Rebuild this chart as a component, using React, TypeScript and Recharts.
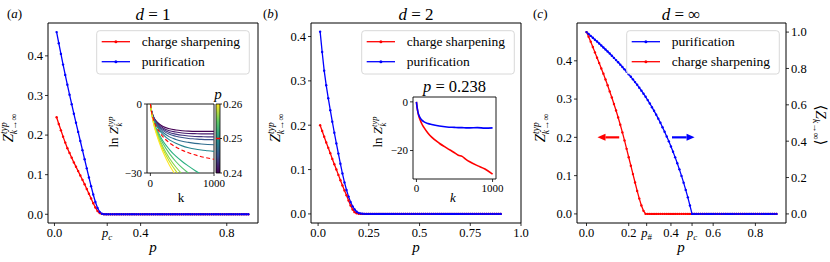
import React from "react";
import { LineChart, Line, XAxis, YAxis, ReferenceArea, ReferenceLine } from "recharts";

const SERIF = '"Liberation Serif", "DejaVu Serif", serif';
const RED = "#ff0000";
const BLUE = "#0000ff";
const INK = "#000";

// p grid of panels (a) and (b)
const P_AB = [
  0.01, 0.02, 0.03, 0.04, 0.05, 0.06, 0.07, 0.08, 0.09, 0.1,
  0.11, 0.12, 0.13, 0.14, 0.15, 0.16, 0.17, 0.18, 0.19, 0.2,
  0.21, 0.22, 0.23, 0.24, 0.25, 0.26, 0.27, 0.28, 0.29, 0.3,
  0.31, 0.32, 0.33, 0.34, 0.35, 0.36, 0.37, 0.38, 0.39, 0.4,
  0.41, 0.42, 0.43, 0.44, 0.45, 0.46, 0.47, 0.48, 0.49, 0.5,
  0.51, 0.52, 0.53, 0.54, 0.55, 0.56, 0.57, 0.58, 0.59, 0.6,
  0.61, 0.62, 0.63, 0.64, 0.65, 0.66, 0.67, 0.68, 0.69, 0.7,
  0.71, 0.72, 0.73, 0.74, 0.75, 0.76, 0.77, 0.78, 0.79, 0.8,
  0.81, 0.82, 0.83, 0.84, 0.85, 0.86, 0.87, 0.88, 0.89, 0.9,
];
// panel (c) also has p = 0
const P_C = [0, ...P_AB];

// (a) d = 1
const A_SHARP = [
  0.245, 0.228, 0.212, 0.196, 0.181, 0.167, 0.155, 0.143, 0.131, 0.12,
  0.109, 0.098, 0.087, 0.076, 0.064, 0.052, 0.04, 0.028, 0.017, 0.008,
  0.003, 0.001, 0, 0, 0, 0, 0, 0, 0, 0,
  0, 0, 0, 0, 0, 0, 0, 0, 0, 0,
  0, 0, 0, 0, 0, 0, 0, 0, 0, 0,
  0, 0, 0, 0, 0, 0, 0, 0, 0, 0,
  0, 0, 0, 0, 0, 0, 0, 0, 0, 0,
  0, 0, 0, 0, 0, 0, 0, 0, 0, 0,
  0, 0, 0, 0, 0, 0, 0, 0, 0, 0,
];
const A_PURIF = [
  0.46, 0.432, 0.405, 0.378, 0.352, 0.327, 0.302, 0.278, 0.254, 0.231,
  0.208, 0.185, 0.162, 0.139, 0.116, 0.093, 0.071, 0.05, 0.031, 0.016,
  0.006, 0.0015, 0.0003, 0, 0, 0, 0, 0, 0, 0,
  0, 0, 0, 0, 0, 0, 0, 0, 0, 0,
  0, 0, 0, 0, 0, 0, 0, 0, 0, 0,
  0, 0, 0, 0, 0, 0, 0, 0, 0, 0,
  0, 0, 0, 0, 0, 0, 0, 0, 0, 0,
  0, 0, 0, 0, 0, 0, 0, 0, 0, 0,
  0, 0, 0, 0, 0, 0, 0, 0, 0, 0,
];

// (b) d = 2
const B_SHARP = [
  0.2, 0.187, 0.174, 0.161, 0.149, 0.137, 0.124, 0.112, 0.1, 0.088,
  0.076, 0.064, 0.053, 0.042, 0.03, 0.019, 0.01, 0.004, 0.0015, 0.0005,
  0, 0, 0, 0, 0, 0, 0, 0, 0, 0,
  0, 0, 0, 0, 0, 0, 0, 0, 0, 0,
  0, 0, 0, 0, 0, 0, 0, 0, 0, 0,
  0, 0, 0, 0, 0, 0, 0, 0, 0, 0,
  0, 0, 0, 0, 0, 0, 0, 0, 0, 0,
  0, 0, 0, 0, 0, 0, 0, 0, 0, 0,
  0, 0, 0, 0, 0, 0, 0, 0, 0, 0,
];
const B_PURIF = [
  0.411, 0.365, 0.323, 0.29, 0.261, 0.234, 0.208, 0.183, 0.159, 0.136,
  0.113, 0.091, 0.071, 0.054, 0.039, 0.027, 0.017, 0.01, 0.005, 0.002,
  0.0008, 0.0002, 0, 0, 0, 0, 0, 0, 0, 0,
  0, 0, 0, 0, 0, 0, 0, 0, 0, 0,
  0, 0, 0, 0, 0, 0, 0, 0, 0, 0,
  0, 0, 0, 0, 0, 0, 0, 0, 0, 0,
  0, 0, 0, 0, 0, 0, 0, 0, 0, 0,
  0, 0, 0, 0, 0, 0, 0, 0, 0, 0,
  0, 0, 0, 0, 0, 0, 0, 0, 0, 0,
];

// (c) d = inf, sharpening on left axis, purification on right axis
const C_SHARP = [
  0.475, 0.463, 0.45, 0.436, 0.422, 0.408, 0.394, 0.38, 0.366, 0.351,
  0.336, 0.32, 0.304, 0.287, 0.27, 0.252, 0.233, 0.213, 0.192, 0.17,
  0.148, 0.126, 0.104, 0.082, 0.06, 0.04, 0.022, 0.008, 0, 0,
  0, 0, 0, 0, 0, 0, 0, 0, 0, 0,
  0, 0, 0, 0, 0, 0, 0, 0, 0, 0,
  0, 0, 0, 0, 0, 0, 0, 0, 0, 0,
  0, 0, 0, 0, 0, 0, 0, 0, 0, 0,
  0, 0, 0, 0, 0, 0, 0, 0, 0, 0,
  0, 0, 0, 0, 0, 0, 0, 0, 0, 0,
  0,
];
const C_PURIF = [
  1, 0.99, 0.979, 0.969, 0.958, 0.948, 0.937, 0.926, 0.915, 0.904,
  0.893, 0.882, 0.87, 0.858, 0.846, 0.834, 0.821, 0.808, 0.795, 0.782,
  0.768, 0.754, 0.74, 0.725, 0.71, 0.694, 0.678, 0.661, 0.644, 0.626,
  0.607, 0.587, 0.567, 0.546, 0.524, 0.501, 0.477, 0.452, 0.426, 0.399,
  0.371, 0.342, 0.311, 0.279, 0.245, 0.209, 0.172, 0.132, 0.091, 0.046,
  0, 0, 0, 0, 0, 0, 0, 0, 0, 0,
  0, 0, 0, 0, 0, 0, 0, 0, 0, 0,
  0, 0, 0, 0, 0, 0, 0, 0, 0, 0,
  0, 0, 0, 0, 0, 0, 0, 0, 0, 0,
  0,
];

// inset of (a): ln Z_k vs k for p = 0.24 ... 0.26
const K_A = [0, 20, 50, 100, 150, 200, 300, 400, 500, 600, 700, 800, 900, 1000];
const LNZ_240 = [0, -3.0, -5.5, -7.6, -8.9, -9.8, -10.8, -11.3, -11.6, -11.8, -11.9, -11.9, -11.9, -11.9];
const LNZ_242 = [0, -3.1, -5.7, -8.0, -9.4, -10.4, -11.6, -12.2, -12.6, -12.8, -12.9, -13.0, -13.0, -13.0];
const LNZ_244 = [0, -3.2, -5.9, -8.3, -9.9, -11.0, -12.4, -13.1, -13.6, -13.9, -14.1, -14.2, -14.3, -14.3];
const LNZ_246 = [0, -3.3, -6.1, -8.7, -10.4, -11.6, -13.2, -14.0, -14.6, -15.0, -15.2, -15.4, -15.5, -15.5];
const LNZ_247 = [0, -3.4, -6.3, -9.1, -11.0, -12.4, -14.3, -15.4, -16.2, -16.7, -17.1, -17.4, -17.6, -17.7];
const LNZ_249 = [0, -3.5, -6.6, -9.6, -11.7, -13.3, -15.6, -17.1, -18.2, -19.0, -19.6, -20.0, -20.3, -20.6];
const LNZ_250 = [0, -3.6, -6.9, -10.2, -12.5, -14.3, -16.9, -18.7, -20.1, -21.2, -22.1, -22.9, -23.5, -24.0];
const LNZ_252 = [0, -3.7, -7.3, -11.0, -13.8, -16.2, -19.8, -22.7, -25.0, -27.0, -28.9, -30.6, -32.2, -33.8];
const LNZ_254 = [0, -3.8, -7.6, -11.6, -14.7, -17.3, -21.6, -25.0, -27.8, -30.1, -32.4, -34.5, -36.5, -38.4];
const LNZ_256 = [0, -3.9, -8.0, -12.3, -15.8, -18.8, -23.6, -27.4, -30.5, -33.3, -35.9, -38.3, -40.6, -42.8];
const LNZ_258 = [0, -4.0, -8.3, -12.9, -16.6, -19.8, -25.0, -29.1, -32.5, -35.5, -38.3, -40.9, -43.4, -45.8];
const LNZ_260 = [0, -4.1, -8.6, -13.5, -17.5, -21.0, -26.6, -31.0, -34.7, -38.0, -41.0, -43.8, -46.5, -49.0];

const INSET_A_CURVES = [
  { key: "p240", values: LNZ_240, color: "#440154" },
  { key: "p242", values: LNZ_242, color: "#481c6e" },
  { key: "p244", values: LNZ_244, color: "#453781" },
  { key: "p246", values: LNZ_246, color: "#3b528b" },
  { key: "p247", values: LNZ_247, color: "#2f6c8e" },
  { key: "p249", values: LNZ_249, color: "#25858e" },
  { key: "p252", values: LNZ_252, color: "#2ab07f" },
  { key: "p254", values: LNZ_254, color: "#52c569" },
  { key: "p256", values: LNZ_256, color: "#86d549" },
  { key: "p258", values: LNZ_258, color: "#c2df23" },
  { key: "p260", values: LNZ_260, color: "#fde725" },
];

// inset of (b): p = 0.238
const K_B = [0, 10, 20, 30, 50, 75, 100, 150, 200, 300, 400, 500, 550, 600, 650, 700, 800, 900, 1000];
const LNZ_SHARP_B = [0, -2.6, -4.4, -5.7, -7.5, -9.3, -10.6, -12.8, -14.5, -17.0, -19.0, -20.9, -21.9, -22.4, -23.6, -24.6, -26.2, -27.6, -29.7];
const LNZ_PURIF_B = [0, -2.5, -4.2, -5.3, -6.6, -7.6, -8.2, -8.9, -9.3, -9.9, -10.3, -10.5, -10.6, -10.6, -10.7, -10.7, -10.6, -10.8, -10.7];

// colorbar
const CB_TICKS = [0.24, 0.25, 0.26];
const P_CRIT = 0.25;

const rowsA = P_AB.map((p, i) => ({ p, sharp: A_SHARP[i], purif: A_PURIF[i] }));
const rowsB = P_AB.map((p, i) => ({ p, sharp: B_SHARP[i], purif: B_PURIF[i] }));
const rowsC = P_C.map((p, i) => ({ p, sharp: C_SHARP[i], purif: C_PURIF[i] }));
const rowsInsetA = K_A.map((k, i) => {
  const r: Record<string, number> = { k, p250: LNZ_250[i] };
  INSET_A_CURVES.forEach((c) => (r[c.key] = c.values[i]));
  return r;
});
const rowsInsetB = K_B.map((k, i) => ({ k, sharp: LNZ_SHARP_B[i], purif: LNZ_PURIF_B[i] }));

const TICK_LINE = { stroke: INK, strokeWidth: 0.8 };

const fix1 = (v: number) => v.toFixed(1);
const fix2 = (v: number) => v.toFixed(2);
const intLabel = (v: number) => (v < 0 ? "\u2212" + Math.abs(v) : String(v));

function pSub(sub: string, italic: boolean) {
  return (
    <>
      <tspan fontStyle="italic">p</tspan>
      <tspan fontStyle={italic ? "italic" : "normal"} fontSize={9} dy={3}>
        {sub}
      </tspan>
    </>
  );
}

function makeTick(
  anchor: "start" | "middle" | "end",
  size: number,
  fmt: (v: number) => string,
  labels?: Record<string, React.ReactNode>,
) {
  const dy = anchor === "middle" ? size * 0.71 : size * 0.35;
  return (props: any) => {
    const v = props.payload.value as number;
    const custom = labels ? labels[String(v)] : undefined;
    return (
      <text x={props.x} y={props.y} dy={dy} textAnchor={anchor} fontFamily={SERIF} fontSize={size} fill={INK}>
        {custom !== undefined ? custom : fmt(v)}
      </text>
    );
  };
}

const dotStyle = (c: string) => ({ r: 1.2, fill: c, stroke: c, strokeWidth: 0 });

type PanelProps = {
  left: number;
  rows: { p: number; sharp: number; purif: number }[];
  xDomain: [number, number];
  xTicks: number[];
  xLabels?: Record<string, React.ReactNode>;
  yDomain: [number, number];
};

function Panel({ left, rows, xDomain, xTicks, xLabels, yDomain }: PanelProps) {
  return (
    <div style={{ position: "absolute", left, top: 0 }}>
      <LineChart width={272} height={262} data={rows} margin={{ top: 23, right: 14, bottom: 0, left: 0 }}>
        <XAxis
          dataKey="p"
          type="number"
          domain={xDomain}
          ticks={xTicks}
          interval={0}
          allowDataOverflow
          height={39}
          tickSize={3}
          tickMargin={2}
          axisLine={false}
          tickLine={TICK_LINE}
          tick={makeTick("middle", 12.5, fix1, xLabels)}
        />
        <YAxis
          type="number"
          domain={yDomain}
          ticks={[0, 0.1, 0.2, 0.3, 0.4]}
          interval={0}
          allowDataOverflow
          width={48}
          tickSize={3}
          tickMargin={2}
          axisLine={false}
          tickLine={TICK_LINE}
          tick={makeTick("end", 12.5, fix1)}
        />
        <ReferenceArea
          x1={xDomain[0]}
          x2={xDomain[1]}
          y1={yDomain[0]}
          y2={yDomain[1]}
          fill="none"
          stroke={INK}
          strokeWidth={1}
          ifOverflow="visible"
        />
        <Line type="linear" dataKey="sharp" stroke={RED} strokeWidth={1.3} dot={dotStyle(RED)} activeDot={false} isAnimationActive={false} />
        <Line type="linear" dataKey="purif" stroke={BLUE} strokeWidth={1.3} dot={dotStyle(BLUE)} activeDot={false} isAnimationActive={false} />
      </LineChart>
    </div>
  );
}

const arrowShape = (color: string) => (props: any) => {
  const { x1, y1, x2, y2 } = props;
  const dir = Math.sign(x2 - x1);
  const bx = x2 - dir * 8;
  return (
    <g>
      <line x1={x1} y1={y1} x2={bx} y2={y2} stroke={color} strokeWidth={2.2} />
      <polygon points={`${x2},${y2} ${bx},${y2 - 3.5} ${bx},${y2 + 3.5}`} fill={color} />
    </g>
  );
};

function PanelC() {
  const xDomain: [number, number] = [-0.045, 0.945];
  const yL: [number, number] = [-0.02375, 0.49875];
  const yR: [number, number] = [-0.05, 1.05];
  return (
    <div style={{ position: "absolute", left: 528, top: 0 }}>
      <LineChart width={302} height={262} data={rowsC} margin={{ top: 23, right: 0, bottom: 0, left: 0 }}>
        <XAxis
          dataKey="p"
          type="number"
          domain={xDomain}
          ticks={[0, 0.2, 0.285, 0.4, 0.5, 0.6, 0.8]}
          interval={0}
          allowDataOverflow
          height={39}
          tickSize={3}
          tickMargin={2}
          axisLine={false}
          tickLine={TICK_LINE}
          tick={makeTick("middle", 12.5, fix1, { "0.285": pSub("#", false), "0.5": pSub("c", true) })}
        />
        <YAxis
          yAxisId="L"
          type="number"
          domain={yL}
          ticks={[0, 0.1, 0.2, 0.3, 0.4]}
          interval={0}
          allowDataOverflow
          width={49}
          tickSize={3}
          tickMargin={2}
          axisLine={false}
          tickLine={TICK_LINE}
          tick={makeTick("end", 12.5, fix1)}
        />
        <YAxis
          yAxisId="R"
          orientation="right"
          type="number"
          domain={yR}
          ticks={[0, 0.2, 0.4, 0.6, 0.8, 1.0]}
          interval={0}
          allowDataOverflow
          width={44}
          tickSize={3}
          tickMargin={2}
          axisLine={false}
          tickLine={TICK_LINE}
          tick={makeTick("start", 12.5, fix1)}
        />
        <ReferenceArea
          yAxisId="L"
          x1={xDomain[0]}
          x2={xDomain[1]}
          y1={yL[0]}
          y2={yL[1]}
          fill="none"
          stroke={INK}
          strokeWidth={1}
          ifOverflow="visible"
        />
        <ReferenceLine yAxisId="L" segment={[{ x: 0.155, y: 0.2 }, { x: 0.052, y: 0.2 }]} shape={arrowShape(RED)} />
        <ReferenceLine yAxisId="L" segment={[{ x: 0.405, y: 0.2 }, { x: 0.512, y: 0.2 }]} shape={arrowShape(BLUE)} />
        <Line yAxisId="L" type="linear" dataKey="sharp" stroke={RED} strokeWidth={1.3} dot={dotStyle(RED)} activeDot={false} isAnimationActive={false} />
        <Line yAxisId="R" type="linear" dataKey="purif" stroke={BLUE} strokeWidth={1.3} dot={dotStyle(BLUE)} activeDot={false} isAnimationActive={false} />
      </LineChart>
    </div>
  );
}

function InsetA() {
  const xD: [number, number] = [-53, 1000];
  const yD: [number, number] = [-30, 0];
  return (
    <div style={{ position: "absolute", left: 115, top: 92 }}>
      <LineChart width={120} height={108} data={rowsInsetA} margin={{ top: 12, right: 21, bottom: 0, left: 0 }}>
        <XAxis
          dataKey="k"
          type="number"
          domain={xD}
          ticks={[0, 1000]}
          interval={0}
          allowDataOverflow
          height={27}
          tickSize={3}
          tickMargin={3}
          axisLine={false}
          tickLine={TICK_LINE}
          tick={makeTick("middle", 11, intLabel)}
        />
        <YAxis
          type="number"
          domain={yD}
          ticks={[-30, 0]}
          interval={0}
          allowDataOverflow
          width={32}
          tickSize={3}
          tickMargin={2}
          axisLine={false}
          tickLine={TICK_LINE}
          tick={makeTick("end", 11, intLabel)}
        />
        {INSET_A_CURVES.map((c) => (
          <Line key={c.key} type="monotone" dataKey={c.key} stroke={c.color} strokeWidth={1.1} dot={false} activeDot={false} isAnimationActive={false} />
        ))}
        <Line type="monotone" dataKey="p250" stroke={RED} strokeWidth={1.1} strokeDasharray="4 2.5" dot={false} activeDot={false} isAnimationActive={false} />
        <ReferenceArea x1={xD[0]} x2={xD[1]} y1={yD[0]} y2={yD[1]} fill="none" stroke={INK} strokeWidth={0.9} ifOverflow="visible" />
      </LineChart>
    </div>
  );
}

function Colorbar() {
  return (
    <div style={{ position: "absolute", left: 205, top: 92 }}>
      <LineChart width={50} height={101} data={[{ x: 0 }, { x: 1 }]} margin={{ top: 12, right: 10, bottom: 20, left: 11 }}>
        <defs>
          <linearGradient id="viridis" x1="0" y1="0" x2="0" y2="1">
            <stop offset="0%" stopColor="#fde725" />
            <stop offset="25%" stopColor="#5ec962" />
            <stop offset="50%" stopColor="#21918c" />
            <stop offset="75%" stopColor="#3b528b" />
            <stop offset="100%" stopColor="#440154" />
          </linearGradient>
        </defs>
        <XAxis dataKey="x" type="number" domain={[0, 1]} hide height={0} />
        <YAxis
          orientation="right"
          type="number"
          domain={[0.24, 0.26]}
          ticks={CB_TICKS}
          interval={0}
          allowDataOverflow
          width={25}
          tickSize={2}
          tickMargin={1}
          axisLine={false}
          tickLine={TICK_LINE}
          tick={makeTick("start", 11, fix2)}
        />
        <ReferenceArea x1={0} x2={1} y1={0.24} y2={0.26} fill="url(#viridis)" fillOpacity={1} stroke={INK} strokeWidth={0.8} ifOverflow="visible" />
        <ReferenceLine y={P_CRIT} stroke={RED} strokeWidth={1.5} />
      </LineChart>
    </div>
  );
}

function InsetB() {
  const xD: [number, number] = [-45, 1045];
  const yD: [number, number] = [-31.7, 2];
  return (
    <div style={{ position: "absolute", left: 370, top: 90 }}>
      <LineChart width={140} height={112} data={rowsInsetB} margin={{ top: 7, right: 14, bottom: 0, left: 2 }}>
        <XAxis
          dataKey="k"
          type="number"
          domain={xD}
          ticks={[0, 1000]}
          interval={0}
          allowDataOverflow
          height={23}
          tickSize={3}
          tickMargin={2}
          axisLine={false}
          tickLine={TICK_LINE}
          tick={makeTick("middle", 11, intLabel)}
        />
        <YAxis
          type="number"
          domain={yD}
          ticks={[-20, 0]}
          interval={0}
          allowDataOverflow
          width={41}
          tickSize={3}
          tickMargin={2}
          axisLine={false}
          tickLine={TICK_LINE}
          tick={makeTick("end", 11, intLabel)}
        />
        <ReferenceArea x1={xD[0]} x2={xD[1]} y1={yD[0]} y2={yD[1]} fill="none" stroke={INK} strokeWidth={0.9} ifOverflow="visible" />
        <Line type="monotone" dataKey="sharp" stroke={RED} strokeWidth={1.6} dot={false} activeDot={false} isAnimationActive={false} />
        <Line type="monotone" dataKey="purif" stroke={BLUE} strokeWidth={1.6} dot={false} activeDot={false} isAnimationActive={false} />
      </LineChart>
    </div>
  );
}

type LegendItem = { label: string; color: string };

function LegendBox({ x, items }: { x: number; items: LegendItem[] }) {
  const y = 30.7;
  return (
    <g>
      <rect x={x} y={y} width={152.6} height={43.3} rx={3} fill="#fff" fillOpacity={0.8} stroke="#d4d4d4" strokeWidth={0.9} />
      {items.map((it, i) => {
        const cy = y + 11 + i * 20;
        return (
          <g key={it.label}>
            <line x1={x + 5} x2={x + 33.3} y1={cy} y2={cy} stroke={it.color} strokeWidth={1.3} />
            <circle cx={x + 19.2} cy={cy} r={1.5} fill={it.color} />
            <text x={x + 45} y={cy + 4.5} fontFamily={SERIF} fontSize={13.5} fill={INK}>
              {it.label}
            </text>
          </g>
        );
      })}
    </g>
  );
}

function ZLabel({ tx, cy }: { tx: number; cy: number }) {
  return (
    <text transform={`translate(${tx},${cy}) rotate(-90)`} textAnchor="middle" fontFamily={SERIF} fontSize={15} fill={INK}>
      <tspan fontStyle="italic">Z</tspan>
      <tspan fontStyle="italic" fontSize={9.5} dy={-6}>typ</tspan>
      <tspan fontStyle="italic" fontSize={9.5} dx={-12} dy={9.5}>k</tspan>
      <tspan fontSize={9.5}>{"\u2192\u221e"}</tspan>
    </text>
  );
}

function LnZLabel({ tx, cy }: { tx: number; cy: number }) {
  return (
    <text transform={`translate(${tx},${cy}) rotate(-90)`} textAnchor="middle" fontFamily={SERIF} fontSize={13} fill={INK}>
      <tspan>ln </tspan>
      <tspan fontStyle="italic">Z</tspan>
      <tspan fontStyle="italic" fontSize={8.5} dy={-5}>typ</tspan>
      <tspan fontStyle="italic" fontSize={8.5} dx={-10} dy={8.5}>k</tspan>
    </text>
  );
}

function Title({ x, text }: { x: number; text: string }) {
  return (
    <text x={x} y={20} textAnchor="middle" fontFamily={SERIF} fontSize={17} fill={INK}>
      <tspan fontStyle="italic">d</tspan>
      <tspan>{" = " + text}</tspan>
    </text>
  );
}

function PanelTag({ x, tag }: { x: number; tag: string }) {
  return (
    <text x={x} y={18} fontFamily={SERIF} fontSize={13} fill={INK}>
      (<tspan fontStyle="italic">{tag}</tspan>)
    </text>
  );
}

function Overlay() {
  const xlab = (x: number) => (
    <text x={x} y={252} textAnchor="middle" fontFamily={SERIF} fontSize={15} fontStyle="italic" fill={INK}>
      p
    </text>
  );
  return (
    <svg width={830} height={262} style={{ position: "absolute", left: 0, top: 0, pointerEvents: "none" }}>
      <PanelTag x={7} tag="a" />
      <PanelTag x={263} tag="b" />
      <PanelTag x={533} tag="c" />
      <Title x={153} text="1" />
      <Title x={416} text="2" />
      <Title x={681} text={"\u221e"} />
      {xlab(153)}
      {xlab(416)}
      {xlab(681)}
      <ZLabel tx={13} cy={128} />
      <ZLabel tx={280} cy={128} />
      <ZLabel tx={545} cy={128} />
      <text transform="translate(816,125) rotate(90)" textAnchor="middle" fontFamily={SERIF} fontSize={15} fill={INK}>
        <tspan>{"\u27e8"}</tspan>
        <tspan fontStyle="italic">Z</tspan>
        <tspan fontStyle="italic" fontSize={9.5} dy={3}>k</tspan>
        <tspan fontSize={9.5}>{"\u2192\u221e"}</tspan>
        <tspan dy={-3}>{"\u27e9"}</tspan>
      </text>
      <LegendBox x={96.7} items={[{ label: "charge sharpening", color: RED }, { label: "purification", color: BLUE }]} />
      <LegendBox x={361.7} items={[{ label: "charge sharpening", color: RED }, { label: "purification", color: BLUE }]} />
      <LegendBox x={626.7} items={[{ label: "purification", color: BLUE }, { label: "charge sharpening", color: RED }]} />
      {/* inset (a) labels */}
      <LnZLabel tx={118} cy={132} />
      <text x={181} y={202} textAnchor="middle" fontFamily={SERIF} fontSize={13} fill={INK}>
        k
      </text>
      <text x={218} y={99} textAnchor="middle" fontFamily={SERIF} fontSize={15} fontStyle="italic" fill={INK}>
        p
      </text>
      {/* inset (b) labels */}
      <text x={454.5} y={92} textAnchor="middle" fontFamily={SERIF} fontSize={16.5} fill={INK}>
        <tspan fontStyle="italic">p</tspan>
        <tspan>{" = 0.238"}</tspan>
      </text>
      <LnZLabel tx={382} cy={132} />
      <text x={453} y={202} textAnchor="middle" fontFamily={SERIF} fontSize={13} fontStyle="italic" fill={INK}>
        k
      </text>
    </svg>
  );
}

export default function App() {
  return (
    <div style={{ position: "absolute", left: 0, top: 0, width: 830, height: 262, background: "#fff", overflow: "hidden" }}>
      <Panel
        left={0}
        rows={rowsA}
        xDomain={[-0.03, 0.945]}
        xTicks={[0, 0.245, 0.4, 0.8]}
        xLabels={{ "0.245": pSub("c", true) }}
        yDomain={[-0.022, 0.483]}
      />
      <Panel
        left={263}
        rows={rowsB}
        xDomain={[-0.035, 1.0]}
        xTicks={[0, 0.25, 0.5, 0.75, 1.0]}
        xLabels={{ "0.25": "0.25", "0.5": "0.5", "0.75": "0.75" }}
        yDomain={[-0.0205, 0.4305]}
      />
      <PanelC />
      <InsetA />
      <Colorbar />
      <InsetB />
      <Overlay />
    </div>
  );
}
